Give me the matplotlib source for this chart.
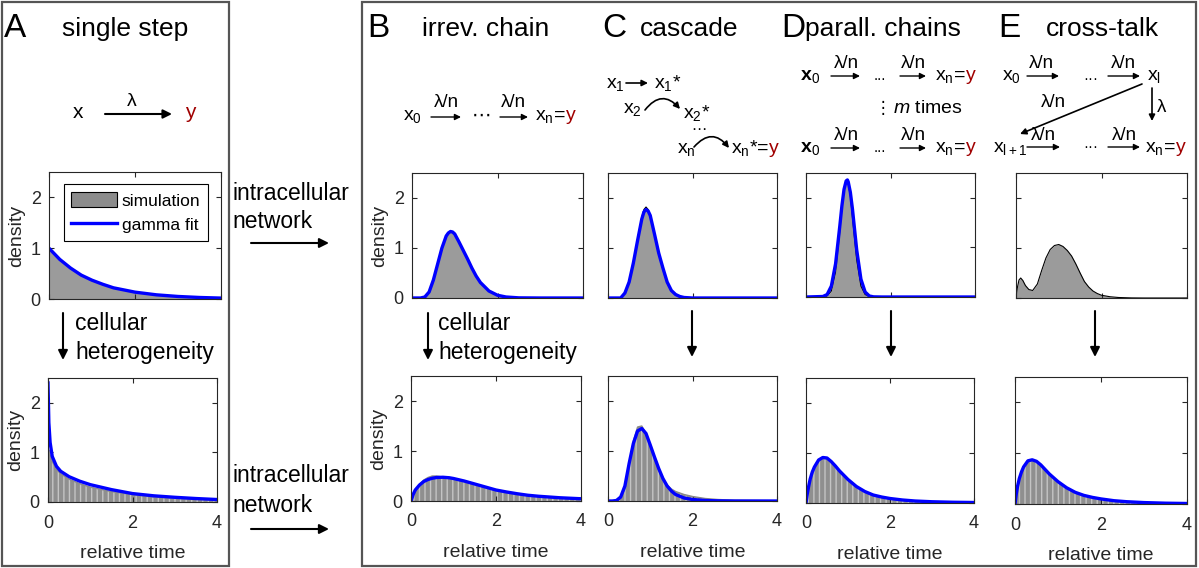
import numpy as np
import matplotlib
matplotlib.use('Agg')
import matplotlib.pyplot as plt
from matplotlib.patches import Rectangle, FancyArrowPatch, Patch
from matplotlib.lines import Line2D

plt.rcParams['font.family'] = ['Liberation Sans', 'DejaVu Sans']
plt.rcParams['mathtext.fontset'] = 'custom'
plt.rcParams['mathtext.rm'] = 'Liberation Sans'
plt.rcParams['mathtext.it'] = 'Liberation Sans:italic'
plt.rcParams['mathtext.bf'] = 'Liberation Sans:bold'

# ---- data (relative time -> density) ----
t_A_top = [0, 0.25, 0.5, 0.75, 1.0, 1.25, 1.5, 2.0, 2.5, 3.0, 3.5, 4.0]
A_top_fit = [1.0, 0.78, 0.61, 0.47, 0.37, 0.29, 0.22, 0.135, 0.082, 0.05, 0.03, 0.018]
A_top_sim = A_top_fit

t_A_bot = [0, 0.02, 0.05, 0.1, 0.2, 0.3, 0.5, 0.75, 1.0, 1.5, 2.0, 2.5, 3.0, 3.5, 4.0]
A_bot_fit = [2.4, 1.6, 1.2, 0.92, 0.72, 0.62, 0.51, 0.42, 0.35, 0.25, 0.17, 0.125, 0.095, 0.07, 0.05]
A_bot_sim = [0, 1.05, 0.95, 0.82, 0.66, 0.57, 0.46, 0.37, 0.3, 0.21, 0.15, 0.1, 0.075, 0.055, 0.04]

t_B_top = [0, 0.2, 0.3, 0.4, 0.5, 0.6, 0.7, 0.8, 0.85, 0.9, 0.95, 1.0, 1.1, 1.2, 1.3, 1.4, 1.5, 1.6, 1.8, 2.0,
           2.2, 2.5, 3.0, 4.0]
B_top_fit = [0, 0, 0.02, 0.12, 0.36, 0.68, 1.0, 1.24, 1.3, 1.33, 1.32, 1.28, 1.12, 0.95, 0.78, 0.6, 0.44, 0.31,
             0.14, 0.055, 0.02, 0.003, 0, 0]
B_top_sim = B_top_fit

t_C_top = [0, 0.3, 0.4, 0.5, 0.6, 0.7, 0.8, 0.85, 0.9, 0.95, 1.0, 1.1, 1.2, 1.3, 1.4, 1.5, 1.6, 1.7, 1.8, 2.0, 4.0]
C_top_fit = [0, 0, 0.1, 0.32, 0.7, 1.15, 1.58, 1.72, 1.77, 1.74, 1.65, 1.28, 0.9, 0.6, 0.32, 0.15, 0.07, 0.03,
             0.01, 0, 0]
C_top_sim = [0, 0, 0.08, 0.3, 0.7, 1.18, 1.62, 1.77, 1.82, 1.77, 1.66, 1.27, 0.88, 0.57, 0.3, 0.14, 0.06, 0.025,
             0.008, 0, 0]

t_D_top = [0, 0.4, 0.5, 0.6, 0.7, 0.8, 0.85, 0.9, 0.95, 0.98, 1.0, 1.05, 1.1, 1.2, 1.3, 1.4, 1.5, 1.6, 1.8, 4.0]
D_top_fit = [0, 0.01, 0.05, 0.22, 0.67, 1.43, 1.84, 2.17, 2.34, 2.36, 2.32, 2.11, 1.77, 0.95, 0.36, 0.1, 0.02,
             0.003, 0, 0]
D_top_sim = [0, 0, 0.02, 0.12, 0.5, 1.3, 1.8, 2.15, 2.3, 2.32, 2.28, 2.05, 1.6, 0.75, 0.22, 0.05, 0.01, 0, 0, 0]

t_E_top = [0, 0.03, 0.07, 0.11, 0.16, 0.22, 0.3, 0.39, 0.5, 0.6, 0.7, 0.8, 0.9, 1.0, 1.1, 1.2, 1.3, 1.4,
           1.5, 1.6, 1.7, 1.8, 1.9, 2.0, 2.2, 2.4, 2.7, 3.0, 4.0]
E_top_sim = [0, 0.2, 0.36, 0.4, 0.35, 0.25, 0.17, 0.15, 0.28, 0.55, 0.8, 0.97, 1.05, 1.07, 1.03, 0.95, 0.84, 0.68,
             0.5, 0.33, 0.22, 0.14, 0.09, 0.055, 0.025, 0.01, 0.002, 0, 0]

t_B_bot = [0, 0.05, 0.1, 0.2, 0.3, 0.4, 0.5, 0.6, 0.75, 0.9, 1.0, 1.25, 1.5, 1.75, 2.0, 2.25, 2.5, 2.75, 3.0, 3.25, 3.5, 3.75, 4.0]
B_bot_fit = [0, 0.13, 0.22, 0.32, 0.39, 0.43, 0.455, 0.47, 0.475, 0.465, 0.45, 0.4, 0.34, 0.28, 0.22, 0.18, 0.145,
             0.115, 0.095, 0.08, 0.065, 0.055, 0.045]
B_bot_sim = [0, 0.1, 0.2, 0.33, 0.42, 0.47, 0.5, 0.5, 0.48, 0.46, 0.44, 0.39, 0.33, 0.27, 0.21, 0.17, 0.135,
             0.11, 0.09, 0.075, 0.06, 0.05, 0.04]

t_C_bot = [0, 0.1, 0.2, 0.3, 0.4, 0.5, 0.6, 0.7, 0.8, 0.9, 1.0, 1.1, 1.2, 1.3, 1.4, 1.5, 1.6, 1.8, 2.0, 2.3, 2.6, 3.0, 4.0]
C_bot_fit = [0, 0, 0.01, 0.08, 0.3, 0.75, 1.15, 1.4, 1.45, 1.35, 1.12, 0.88, 0.65, 0.45, 0.3, 0.2, 0.13, 0.06, 0.03,
             0.01, 0.003, 0, 0]
C_bot_sim = [0, 0, 0, 0.05, 0.25, 0.72, 1.2, 1.48, 1.5, 1.35, 1.1, 0.85, 0.62, 0.45, 0.32, 0.24, 0.19, 0.13, 0.09,
             0.05, 0.03, 0.015, 0.005]

t_DE_bot = [0, 0.03, 0.06, 0.1, 0.15, 0.2, 0.3, 0.4, 0.5, 0.6, 0.7, 0.8, 1.0, 1.2, 1.4, 1.6, 1.8, 2.0, 2.3, 2.6, 3.0, 3.5, 4.0]
D_bot_fit = [0, 0.18, 0.32, 0.48, 0.62, 0.72, 0.86, 0.91, 0.9, 0.83, 0.74, 0.64, 0.47, 0.33, 0.23, 0.16, 0.12, 0.09,
             0.06, 0.04, 0.025, 0.015, 0.01]
D_bot_sim = D_bot_fit
E_bot_fit = [0, 0.2, 0.35, 0.5, 0.63, 0.73, 0.85, 0.87, 0.84, 0.77, 0.68, 0.59, 0.44, 0.32, 0.23, 0.17, 0.13, 0.1,
             0.065, 0.045, 0.028, 0.016, 0.01]
E_bot_sim = E_bot_fit

x_ticks = [0, 2, 4]
y_ticks = [0, 1, 2]

W, H = 1199, 568
BLUE = '#0000ff'
RED = '#a00000'
AXC = '#262626'

fig = plt.figure(figsize=(W / 100, H / 100), dpi=100)

# overlay in pixel coordinates for boxes, labels and schemes
ov = fig.add_axes([0, 0, 1, 1])
ov.set_xlim(0, W)
ov.set_ylim(H, 0)
ov.axis('off')
ov.add_patch(Rectangle((2, 2), 227, 564, fill=False, ec='#555555', lw=1.6))
ov.add_patch(Rectangle((362, 2), 834, 564, fill=False, ec='#555555', lw=1.6))


def rect(l, r, t, b):
    return [l / W, 1 - b / H, (r - l) / W, (b - t) / H]


def panel(box, t, sim, fit, top_row, ylab):
    ax = fig.add_axes(rect(*box))
    if top_row:
        ax.fill_between(t, sim, color='#9b9b9b', lw=0)
        ax.plot(t, sim, color='k', lw=0.8)
    else:
        ax.fill_between(t, sim, facecolor='#8f8f8f', hatch='|||', edgecolor='#c4c4c4', lw=0)
        ax.plot(t, sim, color='#8a8a8a', lw=1)
    if fit is not None:
        ax.plot(t, fit, color=BLUE, lw=2.4)
    ax.set_xlim(0, 4)
    ax.set_ylim(0, 2.5)
    ax.set_xticks(x_ticks)
    ax.set_yticks(y_ticks)
    ax.tick_params(direction='in', top=True, right=True, length=3.5, width=0.8,
                   colors=AXC, labelsize=13)
    ax.tick_params(axis='x', pad=9)
    ax.tick_params(axis='y', pad=6)
    for s in ax.spines.values():
        s.set_color(AXC)
        s.set_linewidth(0.8)
    if top_row:
        ax.tick_params(labelbottom=False)
    else:
        ax.set_xlabel('relative time', fontsize=14, color=AXC, labelpad=10)
    if ylab:
        ax.set_ylabel('density', fontsize=14, color=AXC, labelpad=4)
    else:
        ax.tick_params(labelleft=False)
    return ax


axA = panel((49, 221, 172, 299), t_A_top, A_top_sim, A_top_fit, True, True)
panel((48, 217, 378, 502), t_A_bot, A_bot_sim, A_bot_fit, False, True)
panel((412, 583, 173, 298), t_B_top, B_top_sim, B_top_fit, True, True)
panel((608, 777, 173, 298), t_C_top, C_top_sim, C_top_fit, True, False)
panel((806, 975, 173, 297), t_D_top, D_top_sim, D_top_fit, True, False)
panel((1016, 1187, 173, 298), t_E_top, E_top_sim, None, True, False)
panel((411, 581, 376, 501), t_B_bot, B_bot_sim, B_bot_fit, False, True)
panel((608, 777, 376, 501), t_C_bot, C_bot_sim, C_bot_fit, False, False)
panel((806, 974, 378, 503), t_DE_bot, D_bot_sim, D_bot_fit, False, False)
panel((1015, 1187, 377, 504), t_DE_bot, E_bot_sim, E_bot_fit, False, False)

handles = [Patch(facecolor='#8c8c8c', edgecolor='k', lw=0.8), Line2D([], [], color=BLUE, lw=2.4)]
leg = axA.legend(handles, ['simulation', 'gamma fit'], loc='upper left', bbox_to_anchor=(0.085, 0.905),
                 fontsize=12.5, frameon=True, fancybox=False, edgecolor='k', framealpha=1,
                 handlelength=2.6, handleheight=1.0, handletextpad=0.3, borderpad=0.45, labelspacing=0.45,
                 borderaxespad=0)
leg.get_frame().set_linewidth(0.8)


def txt(x, y, s, size=14, color='k', ha='left', va='baseline', **kw):
    ov.text(x, y, s, fontsize=size, color=color, ha=ha, va=va, **kw)


def arrow(x1, y1, x2, y2, lw=1.0, ms=9, rad=0.0):
    ov.add_patch(FancyArrowPatch((x1, y1), (x2, y2), arrowstyle='-|>', mutation_scale=ms, lw=lw,
                                 color='k', shrinkA=0, shrinkB=0,
                                 connectionstyle='arc3,rad=%s' % rad))


def xny(x, y, s, size=14):
    # "x_n=" in black followed by a red "y"
    txt(x, y, s, size=size, ha='right')
    txt(x, y, 'y', size=size, color=RED)


# titles
for letter, lx, title, tx in [('A', 4, 'single step', 62), ('B', 367, 'irrev. chain', 422),
                               ('C', 602, 'cascade', 640), ('D', 781, 'parall. chains', 805),
                               ('E', 998, 'cross-talk', 1046)]:
    txt(lx, 37, letter, size=24)
    txt(tx, 36, title, size=19)

# A scheme
txt(78, 118, 'x', size=15, ha='center')
arrow(105, 114, 172, 114, lw=1.5, ms=13)
txt(132, 106, 'λ', size=14, ha='center')
txt(190, 118, 'y', size=15, color=RED, ha='center')

# side annotations
for y0, ya in [(193, 243), (476, 529)]:
    txt(232, y0, 'intracellular', size=16.5, va='center')
    txt(232, y0 + 29, 'network', size=16.5, va='center')
    arrow(251, ya, 329, ya, lw=1.5, ms=14)
for xa, xt in [(63, 75), (428, 438)]:
    arrow(xa, 313, xa, 360, lw=1.5, ms=14)
    txt(xt, 323, 'cellular', size=16.5, va='center')
    txt(xt, 352, 'heterogeneity', size=16.5, va='center')
for xa in [692, 891, 1095]:
    arrow(xa, 311, xa, 357, lw=1.5, ms=14)

# B scheme
txt(412, 120, r'$\mathrm{x_0}$', ha='center')
arrow(431, 117, 461, 117)
txt(446, 107, 'λ/n', size=13.5, ha='center')
txt(482, 115, '⋯', size=14, ha='center', va='center', family=['DejaVu Sans'])
arrow(500, 117, 528, 117)
txt(513, 107, 'λ/n', size=13.5, ha='center')
xny(566, 120, r'$\mathrm{x_n}$=')

# C scheme
txt(606, 88, r'$\mathrm{x_1}$')
arrow(626, 83, 648, 83, lw=1.2, ms=9)
txt(654, 88, r'$\mathrm{x_1}$*')
txt(623, 113, r'$\mathrm{x_2}$')
arrow(645, 110, 680, 109, lw=1.2, ms=9, rad=-0.6)
txt(683, 118, r'$\mathrm{x_2}$*')
txt(699, 130, '⋯', size=11, ha='center', va='center', family=['DejaVu Sans'])
txt(677, 153, r'$\mathrm{x_n}$')
arrow(694, 147, 729, 148, lw=1.2, ms=9, rad=-0.6)
xny(769, 153, r'$\mathrm{x_n}$*=')

# D scheme
for by in [80, 152]:
    txt(810, by, r'$\mathbf{x}_\mathrm{0}$', ha='center')
    arrow(831, by - 4, 860, by - 4)
    txt(846, by - 12, 'λ/n', size=13.5, ha='center')
    txt(880, by, '...', size=11, ha='center')
    arrow(900, by - 4, 926, by - 4)
    txt(913, by - 12, 'λ/n', size=13.5, ha='center')
    xny(966, by, r'$\mathrm{x_n}$=')
txt(883, 113, '⋮', size=12, ha='center', family=['DejaVu Sans'])
txt(893, 113, r'$m$ times', size=14)

# E scheme
txt(1011, 80, r'$\mathrm{x_0}$', ha='center')
arrow(1027, 76, 1059, 76)
txt(1041, 68, 'λ/n', size=13.5, ha='center')
txt(1091, 79, '···', size=11, ha='center', va='center')
arrow(1108, 76, 1140, 76)
txt(1123, 68, 'λ/n', size=13.5, ha='center')
txt(1154, 80, r'$\mathrm{x_l}$', ha='center')
arrow(1142, 84, 1020, 134, lw=1.2, ms=9)
txt(1053, 107, 'λ/n', size=13.5, ha='center')
arrow(1152, 88, 1152, 121, lw=1.2, ms=9)
txt(1157, 112, 'λ', size=13.5)
txt(1010, 152, r'$\mathrm{x_{l+1}}$', ha='center')
arrow(1027, 147, 1060, 147)
txt(1043, 140, 'λ/n', size=13.5, ha='center')
txt(1091, 147, '···', size=11, ha='center', va='center')
arrow(1108, 147, 1140, 147)
txt(1124, 140, 'λ/n', size=13.5, ha='center')
xny(1176, 152, r'$\mathrm{x_n}$=')

fig.savefig('out.png', dpi=100)
